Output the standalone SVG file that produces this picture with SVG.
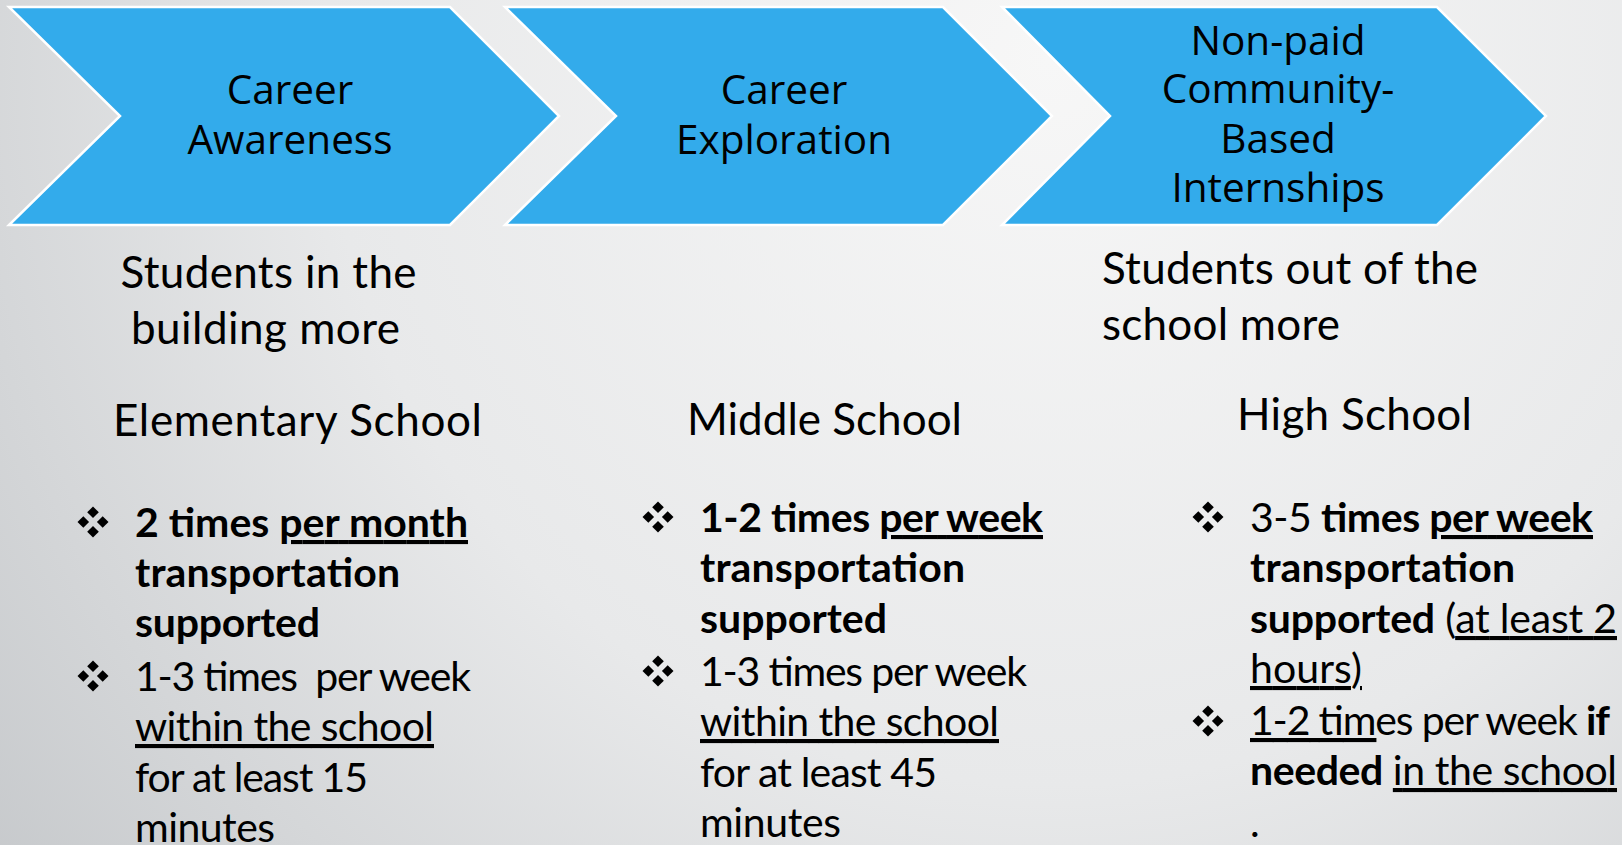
<svg xmlns="http://www.w3.org/2000/svg" width="1622" height="845" viewBox="0 0 1622 845">
<defs>
<radialGradient id="bg" gradientUnits="userSpaceOnUse" cx="1050" cy="60" r="1450">
<stop offset="0" stop-color="#f7f7f7"/>
<stop offset="0.5" stop-color="#e8e9ea"/>
<stop offset="1" stop-color="#c0c3c6"/>
</radialGradient>
<g id="bul">
<polygon points="0,-15.5 5.8,-9.7 0,-3.9 -5.8,-9.7"/>
<polygon points="0,3.9 5.8,9.7 0,15.5 -5.8,9.7"/>
<polygon points="-9.7,-5.8 -3.9,0 -9.7,5.8 -15.5,0"/>
<polygon points="9.7,-5.8 15.5,0 9.7,5.8 3.9,0"/>
</g>
</defs>
<style>
.chev{fill:#33abeb;stroke:#ffffff;stroke-width:2.5;stroke-linejoin:miter}
.ct{font-family:"Open Sans","Noto Sans",sans-serif;font-size:40.5px;fill:#000;text-anchor:middle}
.h{font-family:Lato,"Open Sans",sans-serif;font-size:44px;fill:#000}
.b{font-family:Lato,"Open Sans",sans-serif;font-size:41px;fill:#000;white-space:pre}
.bd{font-weight:bold}
.u{text-decoration:underline}
</style>
<rect width="1622" height="845" fill="url(#bg)"/>

<g id="chevron-awareness">
<polygon class="chev" points="9,7 450,7 559,116 450,225 9,225 120,116"/>
<text class="ct" x="290" y="104">Career</text>
<text class="ct" x="290" y="154">Awareness</text>
</g>
<g id="chevron-exploration">
<polygon class="chev" points="505,7 943,7 1052,116 943,225 505,225 616,116"/>
<text class="ct" x="784" y="104">Career</text>
<text class="ct" x="784" y="154">Exploration</text>
</g>
<g id="chevron-internships">
<polygon class="chev" points="1002,7 1437,7 1546,116 1437,225 1002,225 1110,116"/>
<text class="ct" x="1278" y="55">Non-paid</text>
<text class="ct" x="1278" y="103">Community-</text>
<text class="ct" x="1278" y="153">Based</text>
<text class="ct" x="1278" y="202">Internships</text>
</g>

<g id="connectors"></g>

<g id="col-elementary">
<text class="h" x="268.5" y="288" text-anchor="middle" textLength="296">Students in the</text>
<text class="h" x="265.5" y="344" text-anchor="middle" textLength="269">building more</text>
<text class="h" x="113" y="436" textLength="369">Elementary School</text>
<use href="#bul" x="93" y="522"/>
<text class="b" x="135" y="537" textLength="333"><tspan class="bd">2 times </tspan><tspan class="bd u">per month</tspan></text>
<text class="b bd" x="135" y="587" textLength="265">transportation</text>
<text class="b bd" x="135" y="637" textLength="185">supported</text>
<use href="#bul" x="93" y="676"/>
<text class="b" x="135" y="691" textLength="336">1-3 times  per week</text>
<text class="b u" x="135" y="741" textLength="299">within the school</text>
<text class="b" x="135" y="792" textLength="233">for at least 15</text>
<text class="b" x="135" y="842" textLength="140">minutes</text>
</g>

<g id="col-middle">
<text class="h" x="687" y="435" textLength="275">Middle School</text>
<use href="#bul" x="658" y="517"/>
<text class="b" x="700" y="532" textLength="343"><tspan class="bd">1-2 times </tspan><tspan class="bd u">per week</tspan></text>
<text class="b bd" x="700" y="582" textLength="265">transportation</text>
<text class="b bd" x="700" y="633" textLength="187">supported</text>
<use href="#bul" x="658" y="671"/>
<text class="b" x="700" y="686" textLength="327">1-3 times per week</text>
<text class="b u" x="700" y="736" textLength="299">within the school</text>
<text class="b" x="700" y="787" textLength="237">for at least 45</text>
<text class="b" x="700" y="837" textLength="141">minutes</text>
</g>

<g id="col-high">
<text class="h" x="1102" y="284" textLength="376">Students out of the</text>
<text class="h" x="1102" y="340" textLength="238">school more</text>
<text class="h" x="1237" y="430" textLength="235">High School</text>
<use href="#bul" x="1208" y="517"/>
<text class="b" x="1250" y="532" textLength="343"><tspan>3-5</tspan><tspan class="bd"> times </tspan><tspan class="bd u">per week</tspan></text>
<text class="b bd" x="1250" y="582" textLength="265">transportation</text>
<text class="b" x="1250" y="633" textLength="367"><tspan class="bd">supported</tspan> (<tspan class="u">at least 2</tspan></text>
<text class="b u" x="1250" y="683" textLength="112">hours)</text>
<use href="#bul" x="1208" y="721"/>
<text class="b" x="1250" y="735" textLength="360"><tspan class="u">1-2 tim</tspan>es per week <tspan class="bd">if</tspan></text>
<text class="b" x="1250" y="785" textLength="367"><tspan class="bd">needed</tspan> <tspan class="u">in the school</tspan></text>
<text class="b" x="1250" y="837">.</text>
</g>
</svg>
